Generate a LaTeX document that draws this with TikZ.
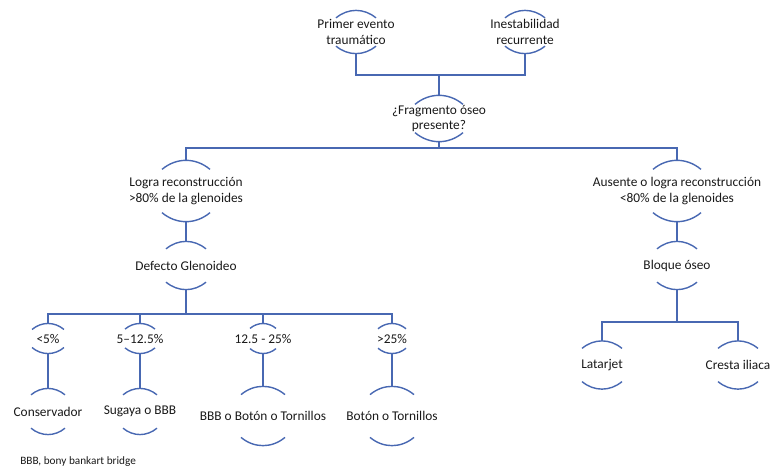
\documentclass[tikz,border=0pt]{standalone}
\usepackage{fontspec}
\setmainfont{Carlito}
\definecolor{linkblue}{RGB}{72,104,178}
\definecolor{txtgray}{RGB}{25,25,25}

\begin{document}
\begin{tikzpicture}[x=0.025cm,y=-0.025cm,
  every node/.style={align=center,inner sep=0pt,text=txtgray,
    font=\fontsize{9.5}{11}\selectfont},
  lnk/.style={draw=linkblue,line width=1pt}]
\useasboundingbox (0,0) rectangle (770,469);
% nodes, top to bottom
\node[minimum height=1.05cm] (prim) at (356,32) {Primer evento\\traumático};
\node[minimum height=1.05cm] (inest) at (525,32) {Inestabilidad\\recurrente};
\node[minimum height=1.125cm] (frag) at (439,118.5) {¿Fragmento óseo\\presente?};
\node[minimum height=1.5cm] (logra) at (186,191) {Logra reconstrucción\\>80\% de la glenoides};
\node[minimum height=1.5cm] (ause) at (677,191) {Ausente o logra reconstrucción\\<80\% de la glenoides};
\node[minimum height=1.175cm] (defg) at (186,265.5) {Defecto Glenoideo};
\node[minimum height=1.175cm] (bloq) at (677,265.5) {Bloque óseo};
\node[minimum height=0.725cm] (m5) at (48,338.5) {<5\%};
\node[minimum height=0.725cm] (m12) at (140,338.5) {5–12.5\%};
\node[minimum height=0.725cm] (m25) at (263,338.5) {12.5 - 25\%};
\node[minimum height=0.725cm] (m25b) at (392,338.5) {>25\%};
\node[minimum height=1.125cm] (cons) at (48,411.5) {Conservador};
\node[minimum height=1.125cm] (suga) at (140,411.5) {Sugaya o BBB};
\node[minimum height=1.45cm] (bbb) at (263,416) {BBB o Botón o Tornillos};
\node[minimum height=1.45cm] (boton) at (392,416) {Botón o Tornillos};
\node[minimum height=1.175cm] (latj) at (602,365) {Latarjet};
\node[minimum height=1.175cm] (cres) at (738,365) {Cresta iliaca};
\node[anchor=west,font=\fontsize{8}{9}\selectfont] (nota) at (20,462) {BBB, bony bankart bridge};
% arcs above and below each node
\foreach \n/\w in {prim/20,inest/20,frag/24,logra/24,ause/24,defg/20,bloq/20,
  m5/16,m12/15,m25/13,m25b/14,cons/17,suga/17,bbb/22,boton/22,latj/20,cres/20}{
  \draw[lnk] (\n.north) ++(-\w,0.36*\w) to[bend left=40] ++(2*\w,0);
  \draw[lnk] (\n.south) ++(-\w,-0.36*\w) to[bend right=40] ++(2*\w,0);
}
% connectors
\coordinate (j1) at (439,75);
\coordinate (j2) at (439,148);
\coordinate (j3) at (186,314);
\coordinate (j4) at (677,322);
\foreach \n in {prim,inest} \draw[lnk] (\n.south) |- (j1);
\draw[lnk] (j1) -- (frag.north);
\draw[lnk] (frag.south) -- (j2);
\foreach \n in {logra,ause} \draw[lnk] (\n.north) |- (j2);
\draw[lnk] (logra.south) -- (defg.north);
\draw[lnk] (ause.south) -- (bloq.north);
\draw[lnk] (defg.south) -- (j3);
\foreach \n in {m5,m12,m25,m25b} \draw[lnk] (\n.north) |- (j3);
\draw[lnk] (bloq.south) -- (j4);
\foreach \n in {latj,cres} \draw[lnk] (\n.north) |- (j4);
\foreach \a/\b in {m5/cons,m12/suga,m25/bbb,m25b/boton} \draw[lnk] (\a.south) -- (\b.north);
\end{tikzpicture}
\end{document}
